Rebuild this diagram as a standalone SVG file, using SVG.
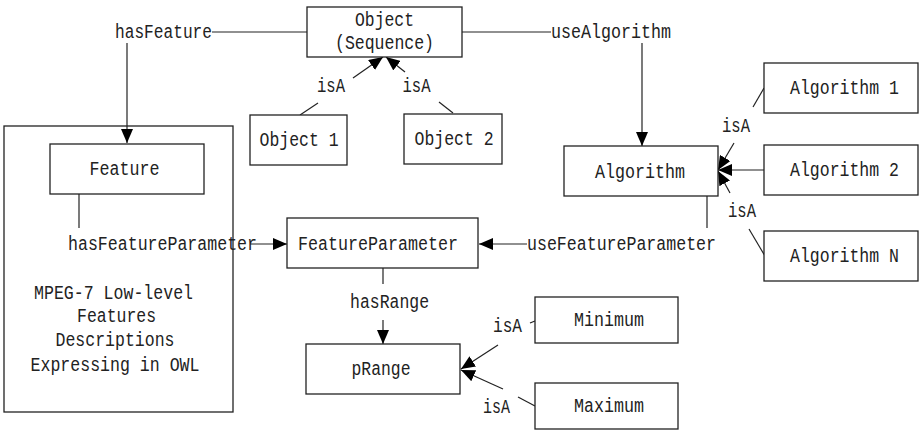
<svg xmlns="http://www.w3.org/2000/svg" width="922" height="431" viewBox="0 0 922 431">
<defs>
<marker id="ah" markerUnits="userSpaceOnUse" markerWidth="14" markerHeight="12" refX="14" refY="6" orient="auto">
<path d="M0,0 L14,6 L0,12 Z" fill="#000"/>
</marker>
<style>
rect{fill:#fff;stroke:#222;stroke-width:1.3}
text{font-family:"Liberation Mono","DejaVu Sans Mono",monospace;font-size:20px;fill:#222;text-anchor:middle}
.c line,.c path{stroke:#222;stroke-width:1.2;fill:none}
.a{marker-end:url(#ah)}
</style>
</defs>
<rect width="922" height="431" style="fill:#fff;stroke:none"/>
<g id="mpeg7">
<rect x="4" y="126" width="229" height="286"/>
<text x="113.5" y="299" textLength="159" lengthAdjust="spacingAndGlyphs">MPEG-7 Low-level</text>
<text x="116.5" y="322" textLength="79" lengthAdjust="spacingAndGlyphs">Features</text>
<text x="115" y="346" textLength="119" lengthAdjust="spacingAndGlyphs">Descriptions</text>
<text x="115" y="371" textLength="169" lengthAdjust="spacingAndGlyphs">Expressing in OWL</text>
</g>
<g class="c" id="connectors">
<line x1="212" y1="32" x2="307" y2="32"/>
<line class="a" x1="127" y1="43" x2="127" y2="143"/>
<line x1="462" y1="32" x2="551" y2="32"/>
<line class="a" x1="642" y1="43" x2="642" y2="146"/>
<line x1="300" y1="115" x2="318" y2="103"/>
<line class="a" x1="353" y1="78" x2="383" y2="57"/>
<line x1="453" y1="113" x2="439" y2="102"/>
<line class="a" x1="405" y1="72" x2="386" y2="57"/>
<line x1="764" y1="88" x2="753" y2="107"/>
<line class="a" x1="734" y1="143" x2="718" y2="170"/>
<line class="a" x1="764" y1="170" x2="718" y2="170"/>
<line x1="765" y1="256" x2="749" y2="229"/>
<line class="a" x1="730" y1="193" x2="718" y2="171"/>
<line x1="707" y1="196" x2="707" y2="228"/>
<line class="a" x1="527" y1="244" x2="479" y2="244"/>
<line x1="79" y1="194" x2="79" y2="228"/>
<line class="a" x1="250" y1="244" x2="287" y2="244"/>
<line x1="383" y1="268" x2="383" y2="284"/>
<line class="a" x1="383" y1="320" x2="383" y2="344"/>
<line x1="535" y1="321" x2="530" y2="323"/>
<line class="a" x1="498" y1="345" x2="461" y2="369"/>
<line x1="535" y1="406" x2="518" y2="397"/>
<line class="a" x1="503" y1="389" x2="461" y2="370"/>
</g>
<g id="labels">
<text x="163.5" y="38" textLength="97" lengthAdjust="spacingAndGlyphs">hasFeature</text>
<text x="611" y="38" textLength="120" lengthAdjust="spacingAndGlyphs">useAlgorithm</text>
<text x="331" y="92" textLength="28" lengthAdjust="spacingAndGlyphs">isA</text>
<text x="416.5" y="92" textLength="28" lengthAdjust="spacingAndGlyphs">isA</text>
<text x="736" y="132" textLength="28" lengthAdjust="spacingAndGlyphs">isA</text>
<text x="742" y="217" textLength="28" lengthAdjust="spacingAndGlyphs">isA</text>
<text x="621.5" y="250" textLength="189" lengthAdjust="spacingAndGlyphs">useFeatureParameter</text>
<text x="162.5" y="250" textLength="189" lengthAdjust="spacingAndGlyphs">hasFeatureParameter</text>
<text x="389.5" y="308" textLength="79" lengthAdjust="spacingAndGlyphs">hasRange</text>
<text x="507.5" y="332" textLength="29" lengthAdjust="spacingAndGlyphs">isA</text>
<text x="496.5" y="413" textLength="27" lengthAdjust="spacingAndGlyphs">isA</text>
</g>
<g id="object"><rect x="307" y="7" width="155" height="50"/>
<text x="384.5" y="26" textLength="59" lengthAdjust="spacingAndGlyphs">Object</text>
<text x="384.5" y="49" textLength="99" lengthAdjust="spacingAndGlyphs">(Sequence)</text></g>
<g id="object1"><rect x="250" y="115" width="97" height="50"/>
<text x="299" y="146" textLength="79" lengthAdjust="spacingAndGlyphs">Object 1</text></g>
<g id="object2"><rect x="404" y="114" width="98" height="50"/>
<text x="454" y="145" textLength="79" lengthAdjust="spacingAndGlyphs">Object 2</text></g>
<g id="feature"><rect x="50" y="144" width="154" height="50"/>
<text x="124.5" y="175" textLength="70" lengthAdjust="spacingAndGlyphs">Feature</text></g>
<g id="algorithm"><rect x="564" y="146" width="154" height="50"/>
<text x="640" y="178" textLength="90" lengthAdjust="spacingAndGlyphs">Algorithm</text></g>
<g id="algorithm1"><rect x="764" y="63" width="154" height="50"/>
<text x="844.5" y="94" textLength="109" lengthAdjust="spacingAndGlyphs">Algorithm 1</text></g>
<g id="algorithm2"><rect x="764" y="145" width="154" height="50"/>
<text x="844.5" y="176" textLength="109" lengthAdjust="spacingAndGlyphs">Algorithm 2</text></g>
<g id="algorithmN"><rect x="764" y="231" width="154" height="50"/>
<text x="844.5" y="262" textLength="109" lengthAdjust="spacingAndGlyphs">Algorithm N</text></g>
<g id="featureParameter"><rect x="287" y="218" width="191" height="50"/>
<text x="378" y="250" textLength="160" lengthAdjust="spacingAndGlyphs">FeatureParameter</text></g>
<g id="pRange"><rect x="306" y="344" width="154" height="50"/>
<text x="381" y="375" textLength="59" lengthAdjust="spacingAndGlyphs">pRange</text></g>
<g id="minimum"><rect x="535" y="297" width="143" height="46"/>
<text x="609" y="326" textLength="70" lengthAdjust="spacingAndGlyphs">Minimum</text></g>
<g id="maximum"><rect x="535" y="383" width="143" height="46"/>
<text x="609" y="412" textLength="70" lengthAdjust="spacingAndGlyphs">Maximum</text></g>
</svg>
